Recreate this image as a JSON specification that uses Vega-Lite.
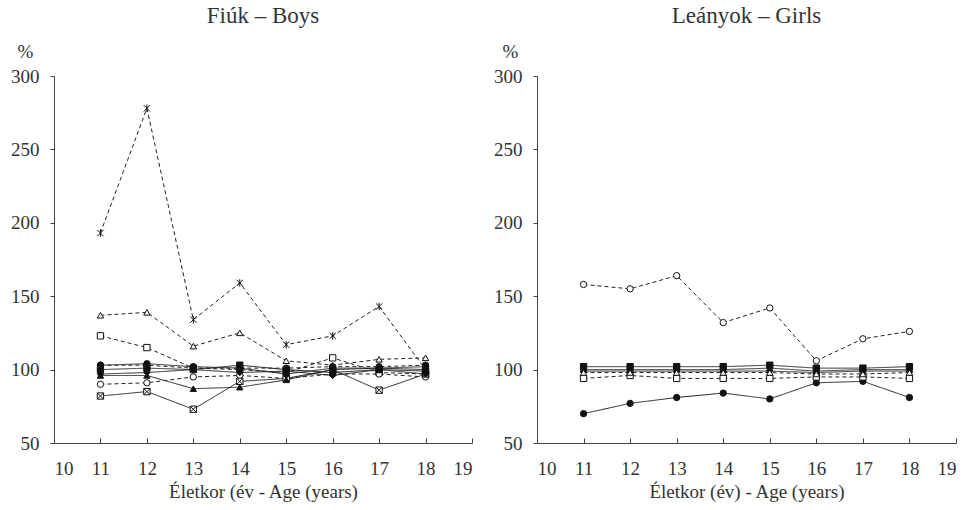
{
  "$schema": "https://vega.github.io/schema/vega-lite/v6.json",
  "background": "white",
  "padding": {"left": 10, "top": 5, "right": 5, "bottom": 5},
  "spacing": 65,
  "bounds": "flush",
  "config": {
    "font": "Liberation Serif",
    "view": {"stroke": null},
    "axis": {"grid": false, "labelFontSize": 19, "titleFontSize": 19, "titleFontWeight": "normal", "labelColor": "#333", "titleColor": "#333", "domainColor": "#444", "tickColor": "#444", "labelFont": "Liberation Serif", "titleFont": "Liberation Serif"},
    "title": {"font": "Liberation Serif", "fontSize": 23, "fontWeight": "normal", "color": "#333"}
  },
  "datasets": {
    "d": [
      {"panel": "boys", "series": "B_star", "age": 11, "value": 193},
      {"panel": "boys", "series": "B_star", "age": 12, "value": 278},
      {"panel": "boys", "series": "B_star", "age": 13, "value": 134},
      {"panel": "boys", "series": "B_star", "age": 14, "value": 159},
      {"panel": "boys", "series": "B_star", "age": 15, "value": 117},
      {"panel": "boys", "series": "B_star", "age": 16, "value": 123},
      {"panel": "boys", "series": "B_star", "age": 17, "value": 143},
      {"panel": "boys", "series": "B_star", "age": 18, "value": 100},
      {"panel": "boys", "series": "B_otri", "age": 11, "value": 137},
      {"panel": "boys", "series": "B_otri", "age": 12, "value": 139},
      {"panel": "boys", "series": "B_otri", "age": 13, "value": 116},
      {"panel": "boys", "series": "B_otri", "age": 14, "value": 125},
      {"panel": "boys", "series": "B_otri", "age": 15, "value": 106},
      {"panel": "boys", "series": "B_otri", "age": 16, "value": 103},
      {"panel": "boys", "series": "B_otri", "age": 17, "value": 107},
      {"panel": "boys", "series": "B_otri", "age": 18, "value": 108},
      {"panel": "boys", "series": "B_osq", "age": 11, "value": 123},
      {"panel": "boys", "series": "B_osq", "age": 12, "value": 115},
      {"panel": "boys", "series": "B_osq", "age": 13, "value": 101},
      {"panel": "boys", "series": "B_osq", "age": 14, "value": 100},
      {"panel": "boys", "series": "B_osq", "age": 15, "value": 98},
      {"panel": "boys", "series": "B_osq", "age": 16, "value": 108},
      {"panel": "boys", "series": "B_osq", "age": 17, "value": 98},
      {"panel": "boys", "series": "B_osq", "age": 18, "value": 97},
      {"panel": "boys", "series": "B_ocirc", "age": 11, "value": 90},
      {"panel": "boys", "series": "B_ocirc", "age": 12, "value": 91},
      {"panel": "boys", "series": "B_ocirc", "age": 13, "value": 95},
      {"panel": "boys", "series": "B_ocirc", "age": 14, "value": 96},
      {"panel": "boys", "series": "B_ocirc", "age": 15, "value": 94},
      {"panel": "boys", "series": "B_ocirc", "age": 16, "value": 97},
      {"panel": "boys", "series": "B_ocirc", "age": 17, "value": 97},
      {"panel": "boys", "series": "B_ocirc", "age": 18, "value": 95},
      {"panel": "boys", "series": "B_hatch", "age": 11, "value": 82},
      {"panel": "boys", "series": "B_hatch", "age": 12, "value": 85},
      {"panel": "boys", "series": "B_hatch", "age": 13, "value": 73},
      {"panel": "boys", "series": "B_hatch", "age": 14, "value": 92},
      {"panel": "boys", "series": "B_hatch", "age": 15, "value": 94},
      {"panel": "boys", "series": "B_hatch", "age": 16, "value": 100},
      {"panel": "boys", "series": "B_hatch", "age": 17, "value": 86},
      {"panel": "boys", "series": "B_hatch", "age": 18, "value": 97},
      {"panel": "boys", "series": "B_ftri", "age": 11, "value": 96},
      {"panel": "boys", "series": "B_ftri", "age": 12, "value": 96},
      {"panel": "boys", "series": "B_ftri", "age": 13, "value": 87},
      {"panel": "boys", "series": "B_ftri", "age": 14, "value": 88},
      {"panel": "boys", "series": "B_ftri", "age": 15, "value": 93},
      {"panel": "boys", "series": "B_ftri", "age": 16, "value": 100},
      {"panel": "boys", "series": "B_ftri", "age": 17, "value": 101},
      {"panel": "boys", "series": "B_ftri", "age": 18, "value": 100},
      {"panel": "boys", "series": "B_fcirc", "age": 11, "value": 103},
      {"panel": "boys", "series": "B_fcirc", "age": 12, "value": 104},
      {"panel": "boys", "series": "B_fcirc", "age": 13, "value": 102},
      {"panel": "boys", "series": "B_fcirc", "age": 14, "value": 101},
      {"panel": "boys", "series": "B_fcirc", "age": 15, "value": 97},
      {"panel": "boys", "series": "B_fcirc", "age": 16, "value": 101},
      {"panel": "boys", "series": "B_fcirc", "age": 17, "value": 101},
      {"panel": "boys", "series": "B_fcirc", "age": 18, "value": 102},
      {"panel": "boys", "series": "B_fsq", "age": 11, "value": 100},
      {"panel": "boys", "series": "B_fsq", "age": 12, "value": 101},
      {"panel": "boys", "series": "B_fsq", "age": 13, "value": 100},
      {"panel": "boys", "series": "B_fsq", "age": 14, "value": 103},
      {"panel": "boys", "series": "B_fsq", "age": 15, "value": 100},
      {"panel": "boys", "series": "B_fsq", "age": 16, "value": 98},
      {"panel": "boys", "series": "B_fsq", "age": 17, "value": 100},
      {"panel": "boys", "series": "B_fsq", "age": 18, "value": 99},
      {"panel": "boys", "series": "B_fdia", "age": 11, "value": 97},
      {"panel": "boys", "series": "B_fdia", "age": 12, "value": 98},
      {"panel": "boys", "series": "B_fdia", "age": 13, "value": 100},
      {"panel": "boys", "series": "B_fdia", "age": 14, "value": 98},
      {"panel": "boys", "series": "B_fdia", "age": 15, "value": 99},
      {"panel": "boys", "series": "B_fdia", "age": 16, "value": 96},
      {"panel": "boys", "series": "B_fdia", "age": 17, "value": 100},
      {"panel": "boys", "series": "B_fdia", "age": 18, "value": 97},
      {"panel": "boys", "series": "B_dot", "age": 11, "value": 103},
      {"panel": "boys", "series": "B_dot", "age": 12, "value": 103},
      {"panel": "boys", "series": "B_dot", "age": 13, "value": 101},
      {"panel": "boys", "series": "B_dot", "age": 14, "value": 101},
      {"panel": "boys", "series": "B_dot", "age": 15, "value": 101},
      {"panel": "boys", "series": "B_dot", "age": 16, "value": 102},
      {"panel": "boys", "series": "B_dot", "age": 17, "value": 102},
      {"panel": "boys", "series": "B_dot", "age": 18, "value": 103},
      {"panel": "girls", "series": "G_ocirc", "age": 11, "value": 158},
      {"panel": "girls", "series": "G_ocirc", "age": 12, "value": 155},
      {"panel": "girls", "series": "G_ocirc", "age": 13, "value": 164},
      {"panel": "girls", "series": "G_ocirc", "age": 14, "value": 132},
      {"panel": "girls", "series": "G_ocirc", "age": 15, "value": 142},
      {"panel": "girls", "series": "G_ocirc", "age": 16, "value": 106},
      {"panel": "girls", "series": "G_ocirc", "age": 17, "value": 121},
      {"panel": "girls", "series": "G_ocirc", "age": 18, "value": 126},
      {"panel": "girls", "series": "G_fcirc", "age": 11, "value": 70},
      {"panel": "girls", "series": "G_fcirc", "age": 12, "value": 77},
      {"panel": "girls", "series": "G_fcirc", "age": 13, "value": 81},
      {"panel": "girls", "series": "G_fcirc", "age": 14, "value": 84},
      {"panel": "girls", "series": "G_fcirc", "age": 15, "value": 80},
      {"panel": "girls", "series": "G_fcirc", "age": 16, "value": 91},
      {"panel": "girls", "series": "G_fcirc", "age": 17, "value": 92},
      {"panel": "girls", "series": "G_fcirc", "age": 18, "value": 81},
      {"panel": "girls", "series": "G_osq", "age": 11, "value": 94},
      {"panel": "girls", "series": "G_osq", "age": 12, "value": 96},
      {"panel": "girls", "series": "G_osq", "age": 13, "value": 94},
      {"panel": "girls", "series": "G_osq", "age": 14, "value": 94},
      {"panel": "girls", "series": "G_osq", "age": 15, "value": 94},
      {"panel": "girls", "series": "G_osq", "age": 16, "value": 95},
      {"panel": "girls", "series": "G_osq", "age": 17, "value": 95},
      {"panel": "girls", "series": "G_osq", "age": 18, "value": 94},
      {"panel": "girls", "series": "G_fsq", "age": 11, "value": 102},
      {"panel": "girls", "series": "G_fsq", "age": 12, "value": 102},
      {"panel": "girls", "series": "G_fsq", "age": 13, "value": 102},
      {"panel": "girls", "series": "G_fsq", "age": 14, "value": 102},
      {"panel": "girls", "series": "G_fsq", "age": 15, "value": 103},
      {"panel": "girls", "series": "G_fsq", "age": 16, "value": 101},
      {"panel": "girls", "series": "G_fsq", "age": 17, "value": 101},
      {"panel": "girls", "series": "G_fsq", "age": 18, "value": 102},
      {"panel": "girls", "series": "G_ftri", "age": 11, "value": 100},
      {"panel": "girls", "series": "G_ftri", "age": 12, "value": 100},
      {"panel": "girls", "series": "G_ftri", "age": 13, "value": 100},
      {"panel": "girls", "series": "G_ftri", "age": 14, "value": 100},
      {"panel": "girls", "series": "G_ftri", "age": 15, "value": 101},
      {"panel": "girls", "series": "G_ftri", "age": 16, "value": 99},
      {"panel": "girls", "series": "G_ftri", "age": 17, "value": 100},
      {"panel": "girls", "series": "G_ftri", "age": 18, "value": 100},
      {"panel": "girls", "series": "G_fdia", "age": 11, "value": 99},
      {"panel": "girls", "series": "G_fdia", "age": 12, "value": 99},
      {"panel": "girls", "series": "G_fdia", "age": 13, "value": 99},
      {"panel": "girls", "series": "G_fdia", "age": 14, "value": 99},
      {"panel": "girls", "series": "G_fdia", "age": 15, "value": 99},
      {"panel": "girls", "series": "G_fdia", "age": 16, "value": 98},
      {"panel": "girls", "series": "G_fdia", "age": 17, "value": 99},
      {"panel": "girls", "series": "G_fdia", "age": 18, "value": 99},
      {"panel": "girls", "series": "G_otri", "age": 11, "value": 98},
      {"panel": "girls", "series": "G_otri", "age": 12, "value": 98},
      {"panel": "girls", "series": "G_otri", "age": 13, "value": 98},
      {"panel": "girls", "series": "G_otri", "age": 14, "value": 98},
      {"panel": "girls", "series": "G_otri", "age": 15, "value": 98},
      {"panel": "girls", "series": "G_otri", "age": 16, "value": 97},
      {"panel": "girls", "series": "G_otri", "age": 17, "value": 97},
      {"panel": "girls", "series": "G_otri", "age": 18, "value": 98}
    ]
  },
  "hconcat": [
    {
      "width": 418,
      "height": 367,
      "title": {"text": "Fiúk – Boys", "anchor": "middle", "offset": 14, "font": "Liberation Serif"},
      "data": {"name": "d"},
      "transform": [{"filter": "datum.panel === 'boys'"}],
      "encoding": {
        "x": {"field": "age", "type": "quantitative", "scale": {"domain": [10, 19], "nice": false, "zero": false},
              "axis": {"values": [10, 11, 12, 13, 14, 15, 16, 17, 18, 19], "title": "Életkor (év - Age (years)", "tickSize": -5, "labelPadding": 21, "titlePadding": 4, "format": "d", "labelFont": "Liberation Serif", "titleFont": "Liberation Serif", "labelFontSize": 19}},
        "y": {"field": "value", "type": "quantitative", "scale": {"domain": [50, 300], "nice": false, "zero": false},
              "axis": {"values": [50, 100, 150, 200, 250, 300], "title": "%", "titleAngle": 0, "titleAlign": "center", "titleBaseline": "alphabetic", "titleX": -29, "titleY": -19, "tickSize": 4, "labelPadding": 11, "labelFont": "Liberation Serif", "titleFont": "Liberation Serif", "labelFontSize": 19}}
      },
      "layer": [
        {
          "mark": {"type": "line", "strokeWidth": 1, "color": "#222"},
          "encoding": {
            "detail": {"field": "series"},
            "strokeDash": {"field": "series", "legend": null, "scale": {
              "domain": ["B_star", "B_otri", "B_osq", "B_ocirc", "B_hatch", "B_ftri", "B_fcirc", "B_fsq", "B_fdia", "B_dot", "G_ocirc", "G_fcirc", "G_osq", "G_fsq", "G_ftri", "G_fdia", "G_otri"],
              "range": [[4, 3], [4, 3], [4, 3], [4, 3], [1, 0], [1, 0], [1, 0], [1, 0], [1, 0], [4, 3], [4, 3], [1, 0], [4, 3], [1, 0], [1, 0], [1, 0], [4, 3]]}}
          }
        },
        {
          "mark": {"type": "point", "filled": true, "stroke": "#111", "strokeWidth": 1, "size": 40, "opacity": 1},
          "encoding": {
            "shape": {"field": "series", "legend": null, "scale": {
              "domain": ["B_star", "B_otri", "B_osq", "B_ocirc", "B_hatch", "B_ftri", "B_fcirc", "B_fsq", "B_fdia", "B_dot", "G_ocirc", "G_fcirc", "G_osq", "G_fsq", "G_ftri", "G_fdia", "G_otri"],
              "range": ["M-1,-1L1,1M-1,1L1,-1M0,-1.2L0,1.2", "triangle-up", "square", "circle", "M-1,-1H1V1H-1ZM-1,-1L1,1M-1,1L1,-1", "triangle-up", "circle", "square", "diamond", "circle", "circle", "circle", "square", "square", "triangle-up", "diamond", "triangle-up"]}},
            "fill": {"field": "series", "legend": null, "scale": {
              "domain": ["B_star", "B_otri", "B_osq", "B_ocirc", "B_hatch", "B_ftri", "B_fcirc", "B_fsq", "B_fdia", "B_dot", "G_ocirc", "G_fcirc", "G_osq", "G_fsq", "G_ftri", "G_fdia", "G_otri"],
              "range": ["white", "white", "white", "white", "white", "#111", "#111", "#111", "#111", "#111", "white", "#111", "white", "#111", "#111", "#111", "white"]}}
          }
        }
      ]
    },
    {
      "width": 419,
      "height": 367,
      "title": {"text": "Leányok – Girls", "anchor": "middle", "offset": 14, "font": "Liberation Serif"},
      "data": {"name": "d"},
      "transform": [{"filter": "datum.panel === 'girls'"}],
      "encoding": {
        "x": {"field": "age", "type": "quantitative", "scale": {"domain": [10, 19], "nice": false, "zero": false},
              "axis": {"values": [10, 11, 12, 13, 14, 15, 16, 17, 18, 19], "title": "Életkor (év) - Age (years)", "tickSize": -5, "labelPadding": 21, "titlePadding": 4, "format": "d", "labelFont": "Liberation Serif", "titleFont": "Liberation Serif", "labelFontSize": 19}},
        "y": {"field": "value", "type": "quantitative", "scale": {"domain": [50, 300], "nice": false, "zero": false},
              "axis": {"values": [50, 100, 150, 200, 250, 300], "title": "%", "titleAngle": 0, "titleAlign": "center", "titleBaseline": "alphabetic", "titleX": -27, "titleY": -19, "tickSize": 4, "labelPadding": 11, "labelFont": "Liberation Serif", "titleFont": "Liberation Serif", "labelFontSize": 19}}
      },
      "layer": [
        {
          "mark": {"type": "line", "strokeWidth": 1, "color": "#222"},
          "encoding": {
            "detail": {"field": "series"},
            "strokeDash": {"field": "series", "legend": null, "scale": {
              "domain": ["B_star", "B_otri", "B_osq", "B_ocirc", "B_hatch", "B_ftri", "B_fcirc", "B_fsq", "B_fdia", "B_dot", "G_ocirc", "G_fcirc", "G_osq", "G_fsq", "G_ftri", "G_fdia", "G_otri"],
              "range": [[4, 3], [4, 3], [4, 3], [4, 3], [1, 0], [1, 0], [1, 0], [1, 0], [1, 0], [4, 3], [4, 3], [1, 0], [4, 3], [1, 0], [1, 0], [1, 0], [4, 3]]}}
          }
        },
        {
          "mark": {"type": "point", "filled": true, "stroke": "#111", "strokeWidth": 1, "size": 40, "opacity": 1},
          "encoding": {
            "shape": {"field": "series", "legend": null, "scale": {
              "domain": ["B_star", "B_otri", "B_osq", "B_ocirc", "B_hatch", "B_ftri", "B_fcirc", "B_fsq", "B_fdia", "B_dot", "G_ocirc", "G_fcirc", "G_osq", "G_fsq", "G_ftri", "G_fdia", "G_otri"],
              "range": ["M-1,-1L1,1M-1,1L1,-1M0,-1.2L0,1.2", "triangle-up", "square", "circle", "M-1,-1H1V1H-1ZM-1,-1L1,1M-1,1L1,-1", "triangle-up", "circle", "square", "diamond", "circle", "circle", "circle", "square", "square", "triangle-up", "diamond", "triangle-up"]}},
            "fill": {"field": "series", "legend": null, "scale": {
              "domain": ["B_star", "B_otri", "B_osq", "B_ocirc", "B_hatch", "B_ftri", "B_fcirc", "B_fsq", "B_fdia", "B_dot", "G_ocirc", "G_fcirc", "G_osq", "G_fsq", "G_ftri", "G_fdia", "G_otri"],
              "range": ["white", "white", "white", "white", "white", "#111", "#111", "#111", "#111", "#111", "white", "#111", "white", "#111", "#111", "#111", "white"]}}
          }
        }
      ]
    }
  ]
}
